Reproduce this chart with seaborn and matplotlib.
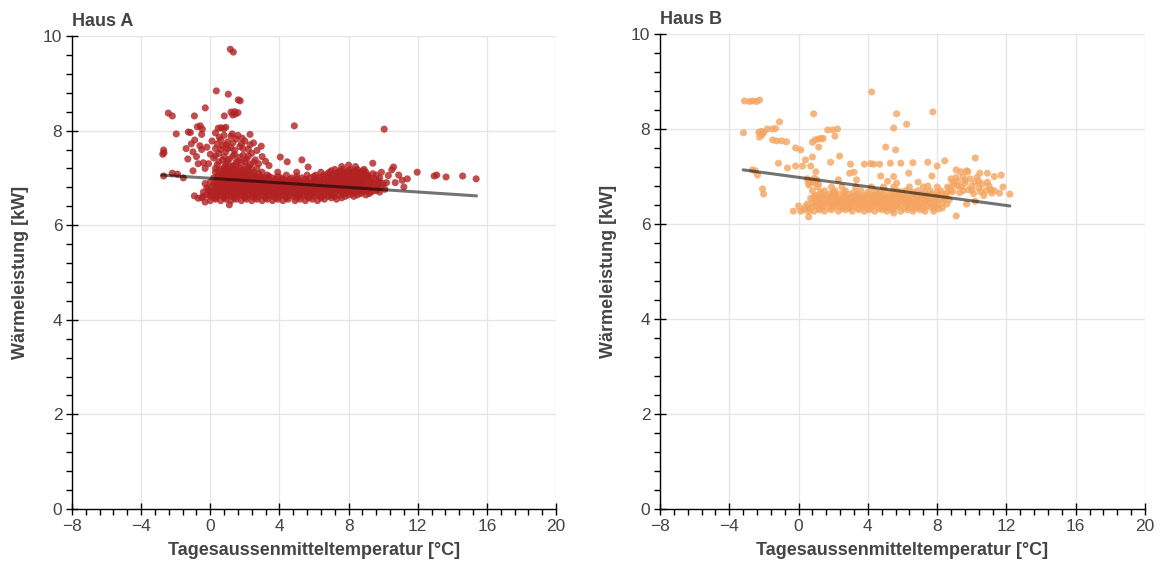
import matplotlib
matplotlib.use("Agg")
import matplotlib.pyplot as plt
import seaborn as sns
import numpy as np
from matplotlib.ticker import MultipleLocator

# ---------------- data ----------------
titles = ["Haus A", "Haus B"]
x_label = "Tagesaussenmitteltemperatur [°C]"
y_label = "Wärmeleistung [kW]"
x_ticks = [-8, -4, 0, 4, 8, 12, 16, 20]
y_ticks = [0, 2, 4, 6, 8, 10]
colors = ["#b22222", "#f4a460"]

# Haus A: scattered single points (temperature, power)
a_points = [
    (1.16, 9.72), (1.33, 9.66), (0.35, 8.84), (1.04, 8.77), (1.62, 8.65), (1.73, 8.63),
    (-2.43, 8.37), (-2.2, 8.31), (-0.29, 8.48), (-0.92, 8.31), (0.81, 8.31), (1.2, 8.39),
    (1.4, 8.4), (1.6, 8.38), (1.3, 8.33), (1.45, 8.35), (-0.58, 8.1), (-0.75, 8.08),
    (-0.46, 8.03), (0.46, 8.05), (0.62, 8.06), (0.78, 8.04), (0.9, 8.07), (-1.97, 7.93),
    (-1.27, 7.97), (-1.15, 7.96), (1.27, 7.93), (4.86, 8.1), (10.06, 8.03), (-2.7, 7.59),
    (-2.68, 7.53), (-2.75, 7.5), (2.95, 7.67), (4.05, 7.44), (4.45, 7.34), (5.3, 7.38),
    (5.66, 7.23), (11.97, 7.12), (12.95, 7.04), (13.1, 7.06), (13.64, 7.02), (14.6, 7.04),
    (15.38, 6.98), (11.4, 6.98), (11.2, 6.81), (10.6, 7.23), (9.4, 7.31), (8.0, 7.27),
    (-2.7, 7.04), (-2.2, 7.1), (-1.9, 7.08), (-1.56, 7.0), (-0.92, 6.62), (-0.7, 6.57),
    (-0.3, 6.49), (1.1, 6.43), (0.52, 7.86), (1.85, 7.84), (1.6, 7.9), (2.3, 7.92),
    (9.9, 7.12), (10.5, 7.17), (10.9, 7.06), (10.2, 6.9), (10.7, 6.9), (9.65, 6.74),
    (11.1, 6.95), (10.3, 7.05),
    (0.1, 7.78), (0.6, 7.8), (1.0, 7.76), (1.5, 7.82), (2.0, 7.78), (2.5, 7.74),
    (-0.2, 7.65), (0.3, 7.62), (0.7, 7.68), (1.2, 7.64), (1.7, 7.66), (2.2, 7.6), (2.7, 7.58),
    (0.0, 7.5), (0.5, 7.52), (0.9, 7.55), (1.4, 7.5), (1.9, 7.48), (2.4, 7.52), (3.0, 7.45),
    (0.2, 7.42), (0.7, 7.38), (1.1, 7.4), (1.6, 7.36), (2.1, 7.4), (2.6, 7.38), (3.2, 7.35),
    (-0.1, 7.3), (0.4, 7.28), (0.9, 7.3), (1.3, 7.26), (1.8, 7.32), (2.3, 7.28), (2.8, 7.3),
    (3.4, 7.26), (-1.1, 7.72), (-1.4, 7.62), (-1.0, 7.55), (-0.8, 7.45), (-0.4, 7.32),
    (-1.3, 7.4), (-0.6, 7.68), (-0.9, 7.8), (-0.5, 7.92), (0.3, 7.95), (-0.5, 7.6),
    (-0.7, 7.3), (-0.3, 7.2), (-1.0, 7.15),
    (0.3, 7.2), (0.8, 7.22), (1.2, 7.24), (1.7, 7.21), (2.2, 7.23), (2.7, 7.2),
    (0.5, 7.34), (1.0, 7.36), (1.5, 7.33), (2.0, 7.35), (2.5, 7.33), (0.3, 7.47),
    (0.8, 7.45), (1.3, 7.46), (1.7, 7.44), (2.2, 7.46), (0.6, 7.6), (1.0, 7.62),
    (1.4, 7.58), (1.9, 7.62), (0.4, 7.72), (0.9, 7.7), (1.3, 7.74), (1.8, 7.72),
    (2.3, 7.7), (0.8, 7.9), (1.2, 7.88),
]

# Haus A: dense band, rows of (power, temperatures)
a_band_rows = [
    (6.52, [0.0, 0.6, 1.2, 1.8, 2.4, 3.0, 3.6, 4.2, 4.9, 5.5, 6.2]),
    (6.55, [0.3, 0.9, 1.5, 2.1, 2.7, 3.3, 3.9, 4.5, 5.2, 5.9, 6.6, 7.3]),
    (6.58, [-0.5, 0.3, 0.8, 1.4, 2.0, 2.6, 3.2, 3.8, 4.4, 5.0, 5.7, 6.4, 7.0, 7.6]),
    (6.61, [-0.4, 0.0, 0.4, 0.8, 1.2, 1.6, 2.0, 2.4, 2.8, 3.2, 3.6, 4.0, 4.4, 4.8, 5.2, 5.6,
            6.0, 6.4, 6.8, 7.2, 7.8, 8.3]),
    (6.64, [-0.2, 0.2, 0.6, 1.0, 1.4, 1.8, 2.2, 2.6, 3.0, 3.4, 3.8, 4.2, 4.6, 5.0, 5.4, 5.8,
            6.2, 6.6, 7.0, 7.5, 8.0, 8.5, 9.0]),
    (6.67, [0.0, 0.4, 0.8, 1.2, 1.6, 2.0, 2.4, 2.8, 3.2, 3.6, 4.0, 4.4, 4.8, 5.2, 5.6, 6.0,
            6.4, 6.8, 7.2, 7.7, 8.2, 8.7, 9.2]),
    (6.70, [-0.4, 0.0, 0.4, 0.8, 1.2, 1.6, 2.0, 2.4, 2.8, 3.2, 3.6, 4.0, 4.4, 4.8, 5.2, 5.6,
            6.0, 6.4, 6.8, 7.2, 7.6, 8.0, 8.4, 8.8, 9.3, 9.8]),
    (6.73, [0.2, 0.6, 1.0, 1.4, 1.8, 2.2, 2.6, 3.0, 3.4, 3.8, 4.2, 4.6, 5.0, 5.4, 5.8, 6.2,
            6.6, 7.0, 7.4, 7.8, 8.2, 8.6, 9.0, 9.5]),
    (6.76, [-0.1, 0.3, 0.7, 1.1, 1.5, 1.9, 2.3, 2.7, 3.1, 3.5, 3.9, 4.3, 4.7, 5.1, 5.5, 5.9,
            6.3, 6.7, 7.1, 7.5, 7.9, 8.3, 8.7, 9.1, 9.6, 10.1]),
    (6.79, [-0.2, 0.3, 0.7, 1.1, 1.5, 1.9, 2.3, 2.7, 3.1, 3.5, 3.9, 4.3, 4.7, 5.1, 5.5, 5.9,
            6.3, 6.7, 7.1, 7.5, 7.9, 8.3, 8.7, 9.2, 9.7]),
    (6.82, [0.1, 0.5, 0.9, 1.3, 1.7, 2.1, 2.5, 2.9, 3.3, 3.7, 4.1, 4.5, 4.9, 5.3, 5.7, 6.1,
            6.5, 6.9, 7.3, 7.7, 8.1, 8.5, 8.9, 9.4, 9.9]),
    (6.85, [0.4, 0.8, 1.2, 1.6, 2.0, 2.4, 2.8, 3.2, 3.6, 4.0, 4.4, 4.8, 5.2, 5.6, 6.0, 6.4,
            6.8, 7.2, 7.6, 8.0, 8.4, 8.8, 9.2, 9.7]),
    (6.88, [-0.3, 0.2, 0.6, 1.0, 1.4, 1.8, 2.2, 2.6, 3.0, 3.4, 3.8, 4.2, 4.6, 5.0, 5.4, 5.8,
            6.2, 6.6, 7.0, 7.4, 7.8, 8.2, 8.6, 9.0, 9.5, 10.0]),
    (6.91, [0.0, 0.4, 0.8, 1.2, 1.6, 2.0, 2.4, 2.8, 3.2, 3.6, 4.0, 4.4, 4.8, 5.2, 5.6, 6.0,
            6.4, 6.8, 7.2, 7.6, 8.0, 8.4, 8.8, 9.3, 9.8]),
    (6.94, [0.4, 0.8, 1.2, 1.6, 2.0, 2.4, 2.8, 3.2, 3.6, 4.0, 4.4, 4.8, 5.2, 5.6, 6.0, 6.4,
            6.8, 7.2, 7.6, 8.0, 8.4, 8.8, 9.2, 9.7]),
    (6.97, [0.6, 1.0, 1.4, 1.8, 2.2, 2.6, 3.0, 3.4, 3.8, 4.2, 4.6, 5.0, 5.5, 6.1, 6.6, 7.0,
            7.4, 7.8, 8.2, 8.6, 9.0, 9.5]),
    (7.00, [0.2, 0.7, 1.1, 1.5, 1.9, 2.3, 2.7, 3.1, 3.6, 4.1, 4.7, 5.3, 5.8, 6.3, 6.8, 7.3,
            7.7, 8.1, 8.5, 8.9, 9.3, 9.8]),
    (7.03, [0.4, 0.9, 1.3, 1.7, 2.1, 2.5, 2.9, 3.4, 3.9, 5.0, 6.0, 6.5, 7.0, 7.5, 7.9, 8.3,
            8.7, 9.1]),
    (7.06, [0.5, 0.9, 1.3, 1.7, 2.1, 2.6, 3.3, 4.4, 5.6, 6.1, 6.6, 7.1, 7.5, 7.9, 8.3, 8.7,
            9.1, 9.6]),
    (7.09, [0.7, 1.1, 1.5, 1.9, 2.3, 2.8, 6.8, 7.3, 7.7, 8.1, 8.5, 8.9, 9.4]),
    (7.12, [0.3, 0.8, 1.2, 1.6, 2.0, 2.5, 3.0, 3.9, 5.0, 6.4, 6.9, 7.4, 7.8, 8.2, 8.6, 9.0]),
    (7.15, [0.5, 0.9, 1.3, 1.8, 2.2, 7.0, 7.5, 8.0, 8.4, 8.8]),
    (7.18, [0.6, 1.0, 1.4, 1.9, 2.4, 7.2, 7.7, 8.1, 8.5, 8.9]),
    (7.24, [0.9, 1.5, 2.1, 7.6, 8.4]),
]

# Haus B: scattered single points
b_points = [
    (-3.12, 8.59), (-2.83, 8.58), (-2.66, 8.59), (-2.43, 8.58), (-2.25, 8.61), (-3.18, 7.92),
    (-2.3, 7.93), (-2.15, 7.95), (-2.0, 7.93), (-2.25, 7.83), (-2.1, 7.88), (-1.8, 8.0),
    (-1.5, 8.0), (-1.33, 8.01), (-1.1, 8.15), (-1.5, 7.77), (-1.27, 7.75), (-0.98, 7.75),
    (-0.69, 7.73), (0.87, 8.32), (-0.17, 7.6), (0.12, 7.56), (0.8, 7.72), (0.95, 7.77),
    (1.15, 7.79), (1.3, 7.8), (1.42, 7.8), (1.16, 7.62), (1.68, 7.98), (1.97, 7.98),
    (2.25, 8.0), (2.1, 7.85), (0.8, 7.41), (0.4, 7.35), (0.23, 7.22), (-0.17, 7.22),
    (-0.64, 7.18), (-1.16, 7.28), (-2.66, 7.14), (-2.5, 7.12), (-2.37, 7.03), (-2.08, 6.74),
    (-2.02, 6.63), (-0.3, 6.27), (0.0, 6.38), (0.12, 6.27), (0.4, 6.36), (0.58, 6.15),
    (0.58, 6.27), (4.22, 8.78), (5.66, 8.32), (5.49, 8.02), (6.24, 8.1), (7.75, 8.36),
    (5.03, 7.62), (5.6, 7.56), (2.37, 7.43), (1.85, 7.3), (3.0, 7.26), (3.8, 7.26),
    (4.16, 7.27), (4.34, 7.26), (4.68, 7.26), (5.3, 7.28), (5.9, 7.28), (6.6, 7.29),
    (7.46, 7.3), (8.44, 7.33), (10.2, 7.39), (2.95, 7.07), (3.2, 7.09), (4.74, 7.01),
    (5.49, 7.0), (6.36, 7.07), (8.0, 7.22), (9.1, 7.14), (9.36, 7.1), (9.7, 7.12),
    (9.77, 7.1), (10.46, 7.07), (10.9, 7.07), (11.3, 7.0), (11.7, 7.03), (11.8, 6.78),
    (12.2, 6.63), (11.6, 6.65), (9.1, 6.17), (5.5, 6.23), (7.8, 6.27), (8.1, 6.32),
    (8.3, 6.34), (9.7, 6.42), (10.2, 6.48), (8.56, 6.42), (11.15, 6.65),
    (6.9, 6.88), (5.14, 6.9), (5.66, 6.86), (3.35, 6.93), (2.3, 6.93), (7.7, 7.01),
    (7.46, 6.8), (1.0, 7.1), (0.7, 7.22), (1.04, 6.93), (1.16, 6.84), (0.8, 6.88),
    (0.58, 6.86), (0.5, 6.95), (0.7, 6.9), (0.9, 6.96), (0.6, 6.82), (1.0, 6.86),
    (8.7, 6.75), (9.0, 6.82), (9.2, 6.9), (9.4, 6.78), (9.6, 6.86), (9.8, 6.72),
    (10.0, 6.8), (10.2, 6.88), (10.4, 6.76), (10.6, 6.84), (10.8, 6.7), (11.0, 6.8),
    (9.1, 6.98), (9.5, 7.0), (9.9, 6.95), (10.3, 6.98), (8.8, 6.95), (9.3, 6.66),
    (10.1, 6.64), (10.7, 6.6), (11.3, 6.7),
    (8.5, 6.62), (8.9, 6.68), (9.5, 6.7), (10.0, 6.72), (10.5, 6.68), (9.2, 6.8),
    (9.6, 6.92), (10.4, 6.9), (10.9, 6.88), (11.1, 6.72), (8.9, 6.88),
]

# Haus B: dense band rows (power, temperatures)
b_band_rows = [
    (6.27, [0.9, 1.5, 2.3, 3.1, 3.8, 4.4, 5.1, 5.9, 6.6, 7.3]),
    (6.30, [0.3, 1.2, 1.9, 2.7, 3.5, 4.1, 4.8, 5.4, 6.3, 7.0]),
    (6.33, [0.6, 1.2, 1.8, 2.5, 2.9, 3.4, 4.0, 4.6, 5.0, 5.5, 6.1, 6.7, 7.2, 7.8]),
    (6.36, [0.8, 1.4, 2.1, 2.6, 3.0, 3.8, 4.2, 4.8, 5.3, 5.7, 6.4, 6.9, 7.6]),
    (6.39, [1.0, 1.5, 2.0, 2.4, 2.8, 3.2, 3.6, 4.0, 4.3, 4.7, 5.1, 5.5, 5.9, 6.3, 6.8, 7.4, 8.0]),
    (6.42, [0.5, 1.2, 1.8, 2.2, 2.6, 3.0, 3.4, 3.7, 4.1, 4.5, 4.9, 5.3, 5.7, 6.2, 6.6, 7.2, 7.8]),
    (6.45, [0.8, 1.3, 1.7, 2.2, 2.6, 3.0, 3.4, 3.8, 4.2, 4.5, 4.9, 5.3, 5.7, 6.1, 6.5, 7.0,
            7.6, 8.3]),
    (6.48, [1.0, 1.5, 1.9, 2.4, 2.8, 3.2, 3.6, 4.0, 4.4, 4.8, 5.2, 5.6, 6.0, 6.4, 6.8, 7.3, 7.9]),
    (6.51, [1.1, 1.6, 2.0, 2.4, 2.8, 3.2, 3.6, 4.0, 4.4, 4.8, 5.2, 5.6, 6.0, 6.4, 6.9, 7.5,
            8.1, 8.7]),
    (6.54, [0.7, 1.3, 1.8, 2.2, 2.6, 3.0, 3.4, 3.8, 4.2, 4.6, 5.0, 5.4, 5.8, 6.2, 6.6, 7.1,
            7.7, 8.4]),
    (6.57, [0.9, 1.4, 1.9, 2.6, 3.1, 3.5, 3.9, 4.3, 4.7, 5.1, 5.5, 5.9, 6.3, 6.8, 7.3, 7.9, 8.5]),
    (6.60, [1.0, 1.6, 2.1, 2.7, 3.3, 3.8, 4.4, 4.9, 5.6, 6.1, 6.8, 7.4, 8.0]),
    (6.63, [1.2, 1.8, 2.3, 2.9, 3.4, 4.1, 4.6, 5.3, 5.8, 6.5, 7.1, 7.7, 8.3]),
    (6.67, [1.3, 2.0, 2.6, 3.2, 4.0, 4.7, 5.4, 6.0, 6.6, 7.3, 8.0, 8.6]),
    (6.70, [0.8, 1.5, 2.1, 2.7, 3.6, 4.4, 5.0, 5.7, 6.2, 6.9, 7.6, 8.2, 8.8]),
    (6.78, [1.1, 1.9, 2.5, 3.3, 4.2, 4.9, 5.5, 6.4, 7.2, 8.0, 8.6]),
]

# fitted trend lines (start/end)
fit_x = [[-2.8, 15.4], [-3.2, 12.2]]
fit_y = [[7.06, 6.62], [7.14, 6.38]]


def collect(points, rows):
    xs = [p[0] for p in points]
    ys = [p[1] for p in points]
    for yv, row in rows:
        xs.extend(row)
        ys.extend([yv] * len(row))
    return xs, ys


temp_a, power_a = collect(a_points, a_band_rows)
temp_b, power_b = collect(b_points, b_band_rows)
temps = [temp_a, temp_b]
powers = [power_a, power_b]

# ---------------- style ----------------
sns.set_theme(style="white")
plt.rcParams["font.family"] = ["Liberation Sans", "DejaVu Sans"]
TXT = "#444444"

fig = plt.figure(figsize=(11.62, 5.67), dpi=100)
W, H = 1162, 567
axes = [
    fig.add_axes([72 / W, 1 - 509 / H, 484 / W, 473 / H]),
    fig.add_axes([660 / W, 1 - 509 / H, 485 / W, 475 / H]),
]

for i, ax in enumerate(axes):
    ax.set_axisbelow(True)
    sns.scatterplot(x=temps[i], y=powers[i], ax=ax, color=colors[i], alpha=0.8,
                    s=26, edgecolor="none", linewidth=0, legend=False, zorder=2)
    sns.lineplot(x=fit_x[i], y=fit_y[i], ax=ax, color="black", alpha=0.55,
                 linewidth=2.2, zorder=3, legend=False)
    ax.set_xlim(-8, 20)
    ax.set_ylim(0, 10)
    ax.set_xticks(x_ticks)
    ax.set_yticks(y_ticks)
    ax.xaxis.set_minor_locator(MultipleLocator(0.8))
    ax.yaxis.set_minor_locator(MultipleLocator(0.4))
    ax.grid(True, which="major", color="#e6e6e6", linewidth=1)
    for s in ["top", "right"]:
        ax.spines[s].set_visible(False)
    for s in ["left", "bottom"]:
        ax.spines[s].set_visible(True)
        ax.spines[s].set_color("black")
        ax.spines[s].set_linewidth(1)
    ax.tick_params(which="major", direction="inout", length=8, width=1, color="black",
                   labelsize=12.5, labelcolor=TXT, bottom=True, left=True, pad=3)
    ax.tick_params(which="minor", direction="out", length=4, width=1, color="black",
                   bottom=True, left=True)
    ax.set_xlabel(x_label, fontsize=13, fontweight="bold", color=TXT, labelpad=6)
    ax.set_ylabel(y_label, fontsize=13, fontweight="bold", color=TXT, labelpad=10)
    ax.set_title(titles[i], loc="left", fontsize=13, fontweight="bold", color=TXT, pad=7)

fig.savefig("out.png", dpi=100)
